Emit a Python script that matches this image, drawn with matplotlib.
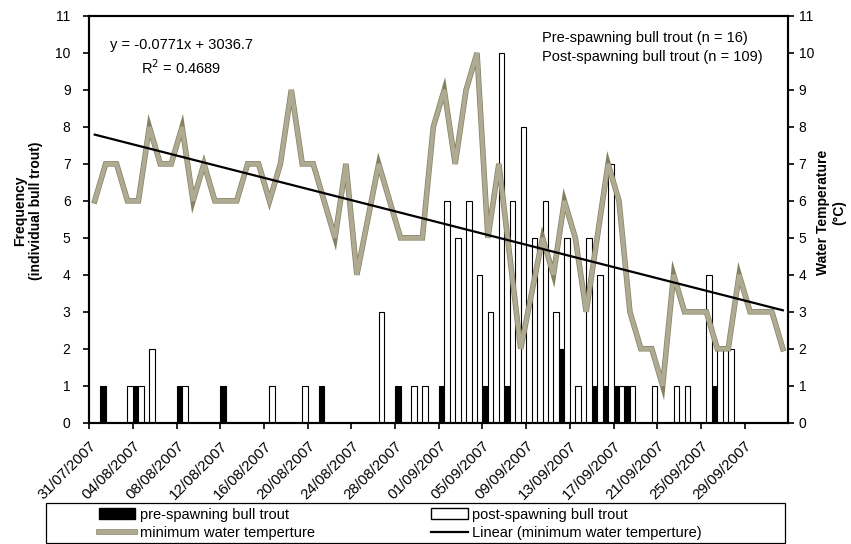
import numpy as np
import matplotlib
matplotlib.use("Agg")
import matplotlib.pyplot as plt
import matplotlib.patheffects as pe
from matplotlib.patches import Patch, Rectangle
from matplotlib.lines import Line2D
from matplotlib.transforms import ScaledTranslation
import pandas as pd

plt.rcParams['font.family'] = ['Liberation Sans', 'DejaVu Sans']

# day 0 = 31/07/2007, one slot per day
start_date = '2007-07-31'
n_days = 64

# fish counts per day (days with zero left out)
pre_days = [1, 4, 8, 12, 21, 28, 32, 36, 38, 43, 46, 47, 48, 49, 57]
pre_counts = [1, 1, 1, 1, 1, 1, 1, 1, 1, 2, 1, 1, 1, 1, 1]
post_days = [3, 4, 5, 8, 16, 19, 26, 29, 30, 32, 33, 34, 35, 36, 37, 38, 39,
             40, 41, 42, 43, 44, 45, 46, 47, 48, 49, 51, 53, 54, 56, 57, 58]
post_counts = [1, 1, 2, 1, 1, 1, 3, 1, 1, 6, 5, 6, 4, 3, 10, 6, 8,
               5, 6, 3, 5, 1, 5, 4, 7, 1, 1, 1, 1, 1, 4, 2, 2]

# minimum water temperature, nan = no reading (line joins across)
nan = np.nan
min_temp = [6, 7, 7, 6, 6, 8, 7, 7, 8, 6, 7, 6, 6, 6, 7, 7,
            6, 7, 9, 7, 7, 6, 5, 7, 4, nan, 7, 6, 5, 5, 5, 8,
            9, 7, 9, 10, 5, 7, nan, 2, nan, 5, 4, 6, 5, 3, 5, 7,
            6, 3, 2, 2, 1, 4, 3, 3, 3, 2, 2, 4, 3, 3, 3, 2]

trend_text = "y = -0.0771x + 3036.7\nR$^2$ = 0.4689"
n_text = "Pre-spawning bull trout (n = 16)\nPost-spawning bull trout (n = 109)"

dates = pd.date_range(start_date, periods=n_days)
days = np.arange(n_days)
temp = np.array(min_temp, dtype=float)

fig = plt.figure(figsize=(8.51, 5.44), dpi=100)
ax = fig.add_axes([0.1049, 0.2230, 0.8214, 0.7476])

ax.bar(np.array(pre_days), pre_counts, width=0.5, align='edge',
       color='black', edgecolor='black', linewidth=0.8, zorder=2)
ax.bar(np.array(post_days) + 0.5, post_counts, width=0.5, align='edge',
       color='white', edgecolor='black', linewidth=0.8, zorder=2)

ax.set_xlim(0, n_days)
ax.set_ylim(0, 11)
ax.set_yticks(range(12))
ticks = days[::4]
ax.set_xticks(ticks)
ax.set_xticklabels([d.strftime('%d/%m/%Y') for d in dates[ticks]],
                   rotation=45, ha='right', va='top', rotation_mode='anchor',
                   fontsize=10.8)
# nudge the date labels a little to the left, like the original
shift = ScaledTranslation(-0.045, 0, fig.dpi_scale_trans)
for lab in ax.get_xticklabels():
    lab.set_transform(lab.get_transform() + shift)
ax.tick_params(axis='both', direction='out', length=4.5, width=1.2)
ax.tick_params(axis='y', labelsize=10, pad=9)
ax.tick_params(axis='x', pad=7)

twin = ax.twinx()
twin.set_ylim(0, 11)
twin.set_yticks(range(12))
twin.tick_params(axis='y', direction='out', length=4.5, width=1.2,
                 labelsize=10, pad=3)

mask = ~np.isnan(temp)
xt = days[mask] + 0.5
twin.plot(xt, temp[mask], color='#aeab92', linewidth=3, solid_joinstyle='miter',
          path_effects=[pe.Stroke(linewidth=4, foreground='#848062'), pe.Normal()],
          zorder=3)
coef = np.polyfit(xt, temp[mask], 1)
xl = np.array([xt[0], xt[-1]])
twin.plot(xl, np.polyval(coef, xl), color='black', linewidth=1.6, zorder=4)

for a in (ax, twin):
    for s in a.spines.values():
        s.set_linewidth(1.5)

ax.set_ylabel("Frequency\n(individual bull trout)", fontsize=10, fontweight='bold',
              va='center', linespacing=1.2)
ax.yaxis.set_label_coords(-0.088, 0.52)
twin.set_ylabel("Water Temperature\n(°C)", fontsize=10, fontweight='bold',
                va='center', rotation=90, linespacing=1.2)
twin.yaxis.set_label_coords(1.061, 0.516)

ax.text(0.132, 0.947, trend_text, transform=ax.transAxes, ha='center', va='top',
        fontsize=10.5, linespacing=1.45)
ax.text(0.648, 0.963, n_text, transform=ax.transAxes, ha='left', va='top',
        fontsize=10.5, linespacing=1.45)

handles = [Patch(facecolor='black', edgecolor='black'),
           Line2D([], [], color='#aeab92', linewidth=3,
                  path_effects=[pe.Stroke(linewidth=4, foreground='#848062'), pe.Normal()]),
           Patch(facecolor='white', edgecolor='black'),
           Line2D([], [], color='black', linewidth=1.6)]
labels = ["pre-spawning bull trout", "minimum water temperture",
          "post-spawning bull trout", "Linear (minimum water temperture)"]
fig.legend(handles, labels, ncol=2, loc='upper left', bbox_to_anchor=(0.1163, 0.067),
           frameon=False, fontsize=10.5, handlelength=2.5, handletextpad=0.3,
           columnspacing=8, borderpad=0, borderaxespad=0, labelspacing=0.3)
fig.patches.append(Rectangle((0.0537, 0.0013), 0.8687, 0.0735, transform=fig.transFigure,
                             fill=False, edgecolor='black', linewidth=0.9))

fig.savefig('out.png', dpi=100)
